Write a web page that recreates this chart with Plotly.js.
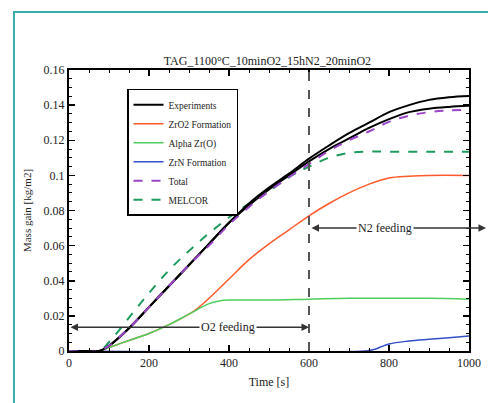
<!DOCTYPE html>
<html>
<head>
<meta charset="utf-8">
<script src="https://cdn.plot.ly/plotly-3.0.1.min.js"></script>
<style>
html,body{margin:0;padding:0;background:#fff;}
#chart{width:488px;height:403px;position:absolute;left:0;top:0;}
#frame{position:absolute;left:13px;top:11px;width:480px;height:400px;border-left:2px solid #3aafa9;border-top:2px solid #3aafa9;pointer-events:none;}
</style>
</head>
<body>
<div id="chart"></div>
<div id="frame"></div>
<script>
// ---- data ----
const tExp = [0,50,75,100,150,200,250,300,350,400,450,500,550,600,650,700,750,800,850,900,950,1000];
const exp1 = [0,0,0,0.003,0.013,0.025,0.037,0.049,0.061,0.073,0.084,0.093,0.101,0.1095,0.117,0.124,0.130,0.136,0.140,0.143,0.1445,0.1452];
const exp2 = [0,0,0,0.003,0.013,0.025,0.037,0.049,0.061,0.073,0.083,0.092,0.100,0.108,0.115,0.121,0.127,0.132,0.136,0.138,0.139,0.1396];
const tZrO2 = [0,75,100,150,200,250,300,320,350,400,450,500,550,600,650,700,750,800,850,900,1000];
const zro2 = [0,0,0.002,0.006,0.010,0.015,0.021,0.024,0.030,0.041,0.052,0.061,0.069,0.077,0.084,0.090,0.095,0.0985,0.0995,0.100,0.100];
const tAlpha = [0,75,100,150,200,250,300,350,375,400,500,600,700,800,900,1000];
const alpha = [0,0,0.002,0.006,0.010,0.015,0.021,0.027,0.0285,0.029,0.029,0.0295,0.030,0.030,0.030,0.0295];
const tZrN = [0,740,760,800,850,900,950,1000];
const zrn = [0,0,0.0007,0.004,0.0057,0.0067,0.0076,0.0086];
const tTotal = [0,75,100,150,200,250,300,350,400,450,500,550,600,650,700,750,800,850,900,950,1000];
const total = [0,0,0.003,0.013,0.025,0.037,0.049,0.060,0.072,0.082,0.091,0.099,0.1065,0.114,0.120,0.125,0.1305,0.134,0.136,0.137,0.1373];
const tMel = [0,75,100,150,200,250,300,350,400,450,500,550,600,650,700,750,800,900,1000];
const melcor = [0,0,0.005,0.019,0.033,0.046,0.057,0.067,0.076,0.084,0.091,0.099,0.105,0.110,0.1128,0.1135,0.1135,0.1135,0.1135];
const xTicks = [0,200,400,600,800,1000];
const yTicks = [0,0.02,0.04,0.06,0.08,0.1,0.12,0.14,0.16];
const yTickText = ['0','0.02','0.04','0.06','0.08','0.1','0.12','0.14','0.16'];
const feedSwitch = 600;
const o2Level = 0.0135;
const n2Level = 0.070;

const serif = 'Liberation Serif, DejaVu Serif, serif';
const traces = [
  {x:tZrO2, y:zro2, name:'ZrO2 Formation', mode:'lines', line:{color:'#ff5a2c', width:1.5, shape:'spline'}, legendrank:2},
  {x:tAlpha, y:alpha, name:'Alpha Zr(O)', mode:'lines', line:{color:'#4fcf5f', width:1.5, shape:'spline'}, legendrank:3},
  {x:tZrN, y:zrn, name:'ZrN Formation', mode:'lines', line:{color:'#3450c8', width:1.5, shape:'spline'}, legendrank:4},
  {x:tMel, y:melcor, name:'MELCOR', mode:'lines', line:{color:'#1e9a5c', width:2, dash:'dash', shape:'spline'}, legendrank:6},
  {x:tExp, y:exp2, name:'Experiments', mode:'lines', line:{color:'#000', width:2, shape:'spline'}, showlegend:false},
  {x:tExp, y:exp1, name:'Experiments', mode:'lines', line:{color:'#000', width:2, shape:'spline'}, legendrank:1},
  {x:tTotal, y:total, name:'Total', mode:'lines', line:{color:'#9b45c8', width:2, dash:'dash', shape:'spline'}, legendrank:5}
];

const axisCommon = {
  showgrid:false, zeroline:false, showline:true, linecolor:'#000', linewidth:2, mirror:'ticks',
  ticks:'inside', ticklen:6, tickwidth:1.5, tickcolor:'#000',
  tickfont:{family:serif, size:12, color:'#222'}
};

const layout = {
  width:488, height:403,
  margin:{l:69, r:19, t:70, b:52},
  paper_bgcolor:'#fff', plot_bgcolor:'#fff',
  showlegend:true,
  title:{text:'TAG_1100°C_10minO2_15hN2_20minO2', font:{family:serif, size:12, color:'#222'},
         x:0.548, xanchor:'center', y:0.838, yanchor:'bottom', yref:'container'},
  xaxis:Object.assign({}, axisCommon, {range:[0,1000], tickvals:xTicks,
         minor:{dtick:50, ticks:'inside', ticklen:3, tickwidth:1, tickcolor:'#000'},
         title:{text:'Time [s]', font:{family:serif, size:12, color:'#222'}, standoff:8}}),
  yaxis:Object.assign({}, axisCommon, {range:[0,0.16], tickvals:yTicks, ticktext:yTickText,
         minor:{dtick:0.005, ticks:'inside', ticklen:3, tickwidth:1, tickcolor:'#000'},
         title:{text:'Mass gain [kg/m2]', font:{family:serif, size:11, color:'#222'}, standoff:10}}),
  legend:{x:0.145, y:0.933, xanchor:'left', yanchor:'top', bordercolor:'#000', borderwidth:1.5,
          bgcolor:'#fff', font:{family:serif, size:9.5, color:'#222'}, tracegroupgap:0, itemwidth:30},
  shapes:[
    {type:'line', xref:'x', yref:'paper', x0:feedSwitch, x1:feedSwitch, y0:0, y1:1,
     line:{color:'#555', width:2, dash:'dash'}}
  ],
  annotations:[
    {xref:'x', yref:'y', axref:'x', ayref:'y', x:feedSwitch, y:o2Level, ax:0, ay:o2Level,
     text:'', showarrow:true, arrowhead:2, arrowside:'end+start', arrowsize:1, arrowwidth:1.5, arrowcolor:'#333'},
    {xref:'x', yref:'y', x:397, y:o2Level, text:'O2 feeding', showarrow:false, bgcolor:'#fff',
     font:{family:serif, size:12, color:'#222'}, borderpad:1},
    {xref:'paper', yref:'y', x:1.0425, y:n2Level, axref:'pixel', ayref:'pixel', ax:-176, ay:0,
     text:'', showarrow:true, arrowhead:2, arrowside:'end+start', arrowsize:1, arrowwidth:1.5, arrowcolor:'#333'},
    {xref:'x', yref:'y', x:790, y:n2Level, text:'N2 feeding', showarrow:false, bgcolor:'#fff',
     font:{family:serif, size:12, color:'#222'}, borderpad:1}
  ]
};

Plotly.newPlot('chart', traces, layout, {displayModeBar:false, staticPlot:true});
</script>
</body>
</html>
